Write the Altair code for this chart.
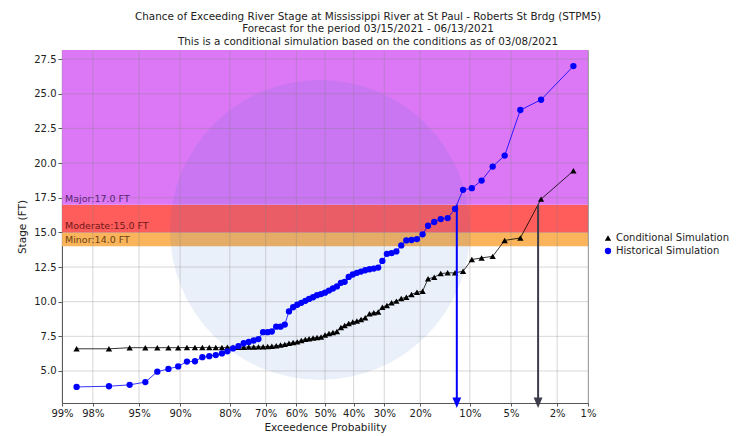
import altair as alt
import pandas as pd
from statistics import NormalDist

title_lines = [
    "Chance of Exceeding River Stage at Mississippi River at St Paul - Roberts St Brdg (STPM5)",
    "Forecast for the period 03/15/2021 - 06/13/2021",
    "This is a conditional simulation based on the conditions as of 03/08/2021",
]

exceed_pct = [98.6, 97.2, 95.8, 94.4, 93.1, 91.7, 90.3, 88.9, 87.5, 86.1, 84.7, 83.3,
              81.9, 80.6, 79.2, 77.8, 76.4, 75.0, 73.6, 72.2, 70.8, 69.4, 68.1, 66.7,
              65.3, 63.9, 62.5, 61.1, 59.7, 58.3, 56.9, 55.6, 54.2, 52.8, 51.4, 50.0,
              48.6, 47.2, 45.8, 44.4, 43.1, 41.7, 40.3, 38.9, 37.5, 36.1, 34.7, 33.3,
              31.9, 30.6, 29.2, 27.8, 26.4, 25.0, 23.6, 22.2, 20.8, 19.4, 18.1, 16.7,
              15.3, 13.9, 12.5, 11.1, 9.7, 8.3, 6.9, 5.6, 4.2, 2.8, 1.4]

historical = [3.85, 3.9, 4.0, 4.2, 4.95, 5.15, 5.33, 5.68, 5.7, 6.0, 6.07, 6.15,
              6.27, 6.42, 6.63, 6.8, 7.0, 7.1, 7.2, 7.3, 7.8, 7.8, 7.85, 8.2,
              8.2, 8.35, 9.3, 9.6, 9.78, 9.92, 10.06, 10.2, 10.32, 10.47, 10.55, 10.65,
              10.8, 10.95, 11.1, 11.36, 11.43, 11.79, 11.96, 12.08, 12.17, 12.27, 12.34, 12.39,
              12.46, 12.94, 13.45, 13.5, 13.63, 14.06, 14.42, 14.45, 14.52, 14.86, 15.48, 15.75,
              15.96, 16.03, 16.7, 18.07, 18.19, 18.74, 19.75, 20.54, 23.83, 24.57, 27.0]

conditional = [6.6, 6.6, 6.68, 6.68, 6.68, 6.68, 6.68, 6.69, 6.69, 6.7, 6.7, 6.7,
               6.7, 6.71, 6.71, 6.72, 6.72, 6.73, 6.73, 6.74, 6.75, 6.76, 6.78, 6.82,
               6.87, 6.92, 7.0, 7.05, 7.1, 7.2, 7.28, 7.32, 7.38, 7.42, 7.45, 7.6,
               7.7, 7.78, 7.85, 8.14, 8.29, 8.43, 8.53, 8.6, 8.72, 8.84, 9.13, 9.2,
               9.25, 9.6, 9.73, 9.92, 10.04, 10.23, 10.32, 10.52, 10.68, 10.76, 11.65, 11.76,
               12.03, 12.08, 12.08, 12.2, 13.04, 13.16, 13.27, 14.42, 14.6, 17.4, 19.44]

series_names = ["Conditional Simulation", "Historical Simulation"]
series_colors = ["#000000", "#0000ff"]
series_shapes = ["triangle-up", "circle"]
arrow_colors = ["#3c3c4c", "#0000ff"]

x_tick_pct = [99, 98, 95, 90, 80, 70, 60, 50, 40, 30, 20, 10, 5, 2, 1]
y_ticks = [5.0, 7.5, 10.0, 12.5, 15.0, 17.5, 20.0, 22.5, 25.0, 27.5]
y_domain = [2.69, 28.16]

flood_names = ["Minor", "Moderate", "Major"]
flood_levels = [14.0, 15.0, 17.0]
flood_colors = ["#f9b45c", "#ff5c5c", "#dc78f6"]
flood_text_colors = ["#6e4210", "#701818", "#5a2474"]
arrow_level = 17.0

FONT = "DejaVu Sans"
nd = NormalDist()


def zpos(pct):
    return nd.inv_cdf(1 - pct / 100.0)


x_domain = [zpos(x_tick_pct[0]), zpos(x_tick_pct[-1])]

rows = []
for name, vals in zip(series_names, [conditional, historical]):
    for i, (p, v) in enumerate(zip(exceed_pct, vals)):
        rows.append({"series": name, "pct": p, "z": zpos(p), "stage": v, "order": i})
df = pd.DataFrame(rows)

uppers = flood_levels[1:] + [y_domain[1]]
bands = pd.DataFrame({
    "name": flood_names,
    "lo": flood_levels,
    "hi": uppers,
    "color": flood_colors,
    "tcolor": flood_text_colors,
    "label": [f"{n}:{l:.1f} FT" for n, l in zip(flood_names, flood_levels)],
    "x0": [x_domain[0]] * 3,
    "x1": [x_domain[1]] * 3,
})

arrows = []
for name, vals, col in zip(series_names, [conditional, historical], arrow_colors):
    zs = [zpos(p) for p in exceed_pct]
    for i in range(1, len(vals)):
        if vals[i - 1] < arrow_level <= vals[i]:
            f = (arrow_level - vals[i - 1]) / (vals[i] - vals[i - 1])
            zc = zs[i - 1] + f * (zs[i] - zs[i - 1])
            arrows.append({"series": name, "z": zc, "top": arrow_level,
                           "bottom": y_domain[0], "acolor": col})
            break
arrows = pd.DataFrame(arrows)

xgrid = pd.DataFrame({"z": [zpos(p) for p in x_tick_pct]})
ygrid = pd.DataFrame({"y": y_ticks})

xscale = alt.Scale(domain=x_domain, nice=False, zero=False)
yscale = alt.Scale(domain=y_domain, nice=False, zero=False)

label_expr = "format(100*(1-cumulativeNormal(datum.value)),'.0f')+'%'"

x_axis = alt.Axis(values=[zpos(p) for p in x_tick_pct], labelExpr=label_expr,
                  title="Exceedence Probability", grid=False, labelFontSize=10,
                  titleFontSize=10.5, titleFontWeight="normal", labelColor="#222",
                  titleColor="#222", domainColor="#555", tickColor="#555", tickSize=3,
                  labelFont=FONT, titleFont=FONT, titlePadding=4, labelPadding=2,
                  labelOverlap=False, labelFlush=False)
y_axis = alt.Axis(values=y_ticks, format=".1f", title="Stage (FT)", grid=False,
                  labelFontSize=10, titleFontSize=10.5, titleFontWeight="normal",
                  labelColor="#222", titleColor="#222", domainColor="#555",
                  tickColor="#555", tickSize=4, labelFont=FONT, titleFont=FONT,
                  titlePadding=6, labelPadding=2, labelOverlap=False, labelFlush=False)

X = lambda f: alt.X(f, scale=xscale, axis=x_axis)
Y = lambda f: alt.Y(f, scale=yscale, axis=y_axis)

band_layer = alt.Chart(bands).mark_rect(opacity=1).encode(
    x=X("x0:Q"), x2="x1:Q", y=Y("lo:Q"), y2="hi:Q",
    fill=alt.Fill("color:N", scale=None),
)

watermark = alt.Chart(pd.DataFrame({"a": [0]})).mark_point(
    filled=True, shape="circle", size=90000, color="#2f6fd0", opacity=0.1
).encode(x=alt.value(258), y=alt.value(180))

band_text = alt.Chart(bands).mark_text(
    align="left", baseline="bottom", dx=3, dy=-1, fontSize=9.5, font=FONT
).encode(
    x=X("x0:Q"), y=Y("lo:Q"), text="label:N",
    fill=alt.Fill("tcolor:N", scale=None),
)

vgrid = alt.Chart(xgrid).mark_rule(color="#808080", opacity=0.4, strokeWidth=0.8).encode(
    x=X("z:Q")
)
hgrid = alt.Chart(ygrid).mark_rule(color="#808080", opacity=0.4, strokeWidth=0.8).encode(
    y=Y("y:Q")
)

legend = alt.Legend(title=None, orient="none", legendX=541, legendY=183,
                    labelFontSize=10, labelFont=FONT, labelColor="#222",
                    symbolSize=40, rowPadding=3, padding=0,
                    symbolStrokeWidth=0, labelOffset=3)
color_enc = alt.Color("series:N", scale=alt.Scale(domain=series_names, range=series_colors),
                      legend=legend)
shape_enc = alt.Shape("series:N", scale=alt.Scale(domain=series_names, range=series_shapes),
                      legend=legend)

lines = alt.Chart(df).mark_line(strokeWidth=0.8).encode(
    x=X("z:Q"), y=Y("stage:Q"),
    color=color_enc,
    detail="series:N",
    order="order:Q",
)

points = alt.Chart(df).mark_point(filled=True, opacity=1, size=40).encode(
    x=X("z:Q"), y=Y("stage:Q"),
    color=color_enc,
    shape=shape_enc,
)

arrow_rule = alt.Chart(arrows).mark_rule(strokeWidth=2).encode(
    x=X("z:Q"), y=Y("top:Q"), y2="bottom:Q",
    stroke=alt.Stroke("acolor:N", scale=None),
)
arrow_head = alt.Chart(arrows).mark_point(
    filled=True, opacity=1, size=121, shape="M-0.8,-1L0.8,-1L0,0.9Z", strokeWidth=0
).encode(
    x=X("z:Q"), y=Y("bottom:Q"),
    fill=alt.Fill("acolor:N", scale=None),
)

chart = alt.layer(
    band_layer, watermark, vgrid, hgrid, band_text, lines, points, arrow_rule, arrow_head
).properties(
    width=526,
    height=353,
    padding={"left": 54, "top": 42, "right": 144, "bottom": 32},
    autosize=alt.AutoSizeParams(type="none"),
    background="white",
    title=alt.TitleParams(text=title_lines, fontSize=10.4, fontWeight="normal",
                          anchor="middle", dx=43, offset=2, color="#222",
                          lineHeight=12.8, font=FONT),
).configure_view(stroke="#aaaaaa", strokeWidth=1).configure_axis(labelOverlap=False)

chart.save("out.html", embed_options={"renderer": "svg", "actions": False})
